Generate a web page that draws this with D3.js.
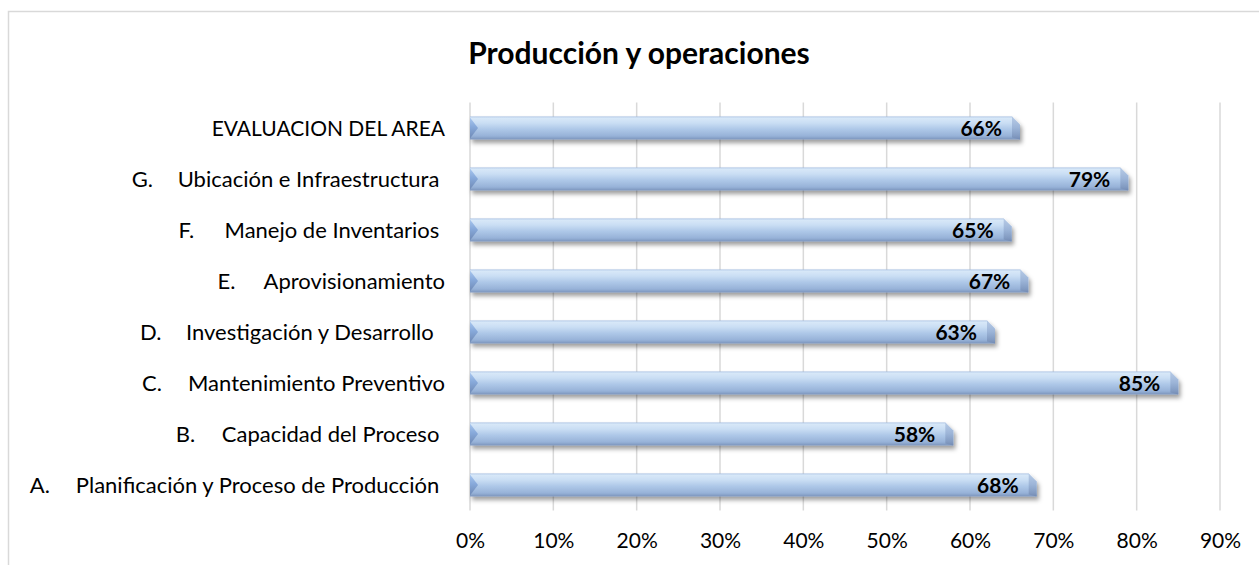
<!DOCTYPE html>
<html>
<head>
<meta charset="utf-8">
<script src="https://cdn.jsdelivr.net/npm/d3@7"></script>
<style>
  html, body { margin: 0; padding: 0; background: #fff; }
  svg { display: block; font-family: Lato, Carlito, Calibri, "Open Sans", sans-serif; }
</style>
</head>
<body>
<svg id="chart" width="1259" height="565"></svg>
<script>
// Category labels, bottom to top (letter prefix and name separated by a tab)
const categories = [
  "A.\tPlanificación y Proceso de Producción ",
  "B.\tCapacidad del Proceso ",
  "C.\tMantenimiento Preventivo",
  "D.\tInvestigación y Desarrollo  ",
  "E.\tAprovisionamiento",
  "F.\tManejo de Inventarios ",
  "G.\tUbicación e Infraestructura ",
  "EVALUACION DEL AREA"
];
// Share of each item achieved
const values = [0.68, 0.58, 0.85, 0.63, 0.67, 0.65, 0.79, 0.66];
// Horizontal axis ticks
const tickValues = [0, 0.1, 0.2, 0.3, 0.4, 0.5, 0.6, 0.7, 0.8, 0.9];
const tickLabels = ["0%", "10%", "20%", "30%", "40%", "50%", "60%", "70%", "80%", "90%"];
const chartTitle = "Producción y operaciones";

const svg = d3.select("#chart");
const W = 1259, H = 565;
const plot = { left: 470, right: 1220, top: 102.5, bottom: 510.5 };
const labelRight = 445;

// chart frame
svg.append("rect")
  .attr("x", 8.5).attr("y", 11.5)
  .attr("width", W + 20).attr("height", H + 20)
  .attr("fill", "#fff").attr("stroke", "#d9d9d9").attr("stroke-width", 1.5);

const x = d3.scaleLinear().domain([0, 0.9]).range([plot.left, plot.right]);
const data = categories.map((c, i) => ({ label: c, value: values[i] }));
const y = d3.scaleBand()
  .domain(d3.range(data.length).reverse())
  .range([plot.top, plot.bottom])
  .paddingInner(0.55).paddingOuter(0.275);

// defs: bar body gradient, bevel gradients, shadow
const defs = svg.append("defs");
function vGrad(id, stops) {
  const g = defs.append("linearGradient").attr("id", id)
    .attr("x1", 0).attr("y1", 0).attr("x2", 0).attr("y2", 1);
  stops.forEach(([o, c]) => g.append("stop").attr("offset", o).attr("stop-color", c));
}
vGrad("barBody", [["0%", "#a3bde2"], ["6%", "#d8e8f8"], ["28%", "#cadef4"],
  ["55%", "#aec8e8"], ["85%", "#97b2d8"], ["100%", "#7b94bc"]]);
vGrad("capLeft", [["0%", "#a8c6ee"], ["45%", "#87a9da"], ["100%", "#6f89b4"]]);
vGrad("capRight", [["0%", "#a9bfdf"], ["50%", "#93abd0"], ["100%", "#7088b0"]]);
const shadow = defs.append("filter").attr("id", "barShadow")
  .attr("x", "-5%").attr("y", "-40%").attr("width", "110%").attr("height", "200%");
shadow.append("feDropShadow")
  .attr("dx", 2).attr("dy", 3.5).attr("stdDeviation", 2.2)
  .attr("flood-color", "#000").attr("flood-opacity", 0.38);

// vertical gridlines
svg.append("g")
  .selectAll("line")
  .data(tickValues)
  .join("line")
  .attr("x1", d => x(d)).attr("x2", d => x(d))
  .attr("y1", plot.top).attr("y2", plot.bottom)
  .attr("stroke", "#d9d9d9").attr("stroke-width", 1.5);

// tick labels
const xAxis = d3.axisBottom(x).tickValues(tickValues)
  .tickFormat((d, i) => tickLabels[i]).tickSize(0).tickPadding(0);
const gx = svg.append("g").attr("transform", `translate(0,${plot.bottom})`).call(xAxis);
gx.select(".domain").remove();
gx.selectAll("text")
  .attr("y", 37).attr("dy", null)
  .attr("font-family", "Lato, Carlito, Calibri, sans-serif")
  .attr("font-size", 21).attr("fill", "#000");

// bars
const bars = svg.append("g").selectAll("g.bar")
  .data(data)
  .join("g").attr("class", "bar");

bars.each(function (d, i) {
  const g = d3.select(this);
  const x0 = x(0), x1 = x(d.value);
  const y0 = y(i), h = y.bandwidth(), y1 = y0 + h, ym = y0 + h / 2;
  const cap = 8, cut = 8;
  const shape = g.append("g").attr("filter", "url(#barShadow)");
  // body with a chamfered upper-right corner
  shape.append("path")
    .attr("d", `M${x0},${y0} L${x1 - cut},${y0} L${x1},${y0 + cut} L${x1},${y1} L${x0},${y1} Z`)
    .attr("fill", "url(#barBody)");
  // end faces
  shape.append("path")
    .attr("d", `M${x1 - cut},${y0} L${x1},${y0 + cut} L${x1},${y1} L${x1 - cut},${y1 - 2} Z`)
    .attr("fill", "url(#capRight)").attr("opacity", 0.75);
  shape.append("path")
    .attr("d", `M${x0},${y0 + 1} L${x0 + cap},${ym} L${x0},${y1 - 1} Z`)
    .attr("fill", "url(#capLeft)");
  // value label
  g.append("text")
    .attr("x", x1 - 18).attr("y", ym + 8)
    .attr("text-anchor", "end")
    .attr("font-size", 21).attr("font-weight", 700).attr("fill", "#000")
    .text(d3.format(".0%")(d.value));
});

// category labels: name right-aligned, letter prefix set off to its left
const labels = svg.append("g").selectAll("g.cat")
  .data(data)
  .join("g").attr("class", "cat");
labels.each(function (d, i) {
  const g = d3.select(this);
  const parts = d.label.split("\t");
  const name = parts.length > 1 ? parts[1] : parts[0];
  const ym = y(i) + y.bandwidth() / 2;
  const t = g.append("text")
    .attr("x", labelRight).attr("y", ym + 8)
    .attr("text-anchor", "end")
    .style("white-space", "pre")
    .attr("font-size", parts.length > 1 ? 22 : 21).attr("fill", "#000")
    .text(name);
  if (parts.length > 1) {
    const start = labelRight - t.node().getComputedTextLength();
    g.append("text")
      .attr("x", start - 46).attr("y", ym + 8)
      .attr("font-size", 22).attr("fill", "#000")
      .text(parts[0]);
  }
});

// title
svg.append("text")
  .attr("x", 639).attr("y", 64)
  .attr("text-anchor", "middle")
  .attr("font-size", 30).attr("font-weight", 700).attr("fill", "#000")
  .text(chartTitle);
</script>
</body>
</html>
